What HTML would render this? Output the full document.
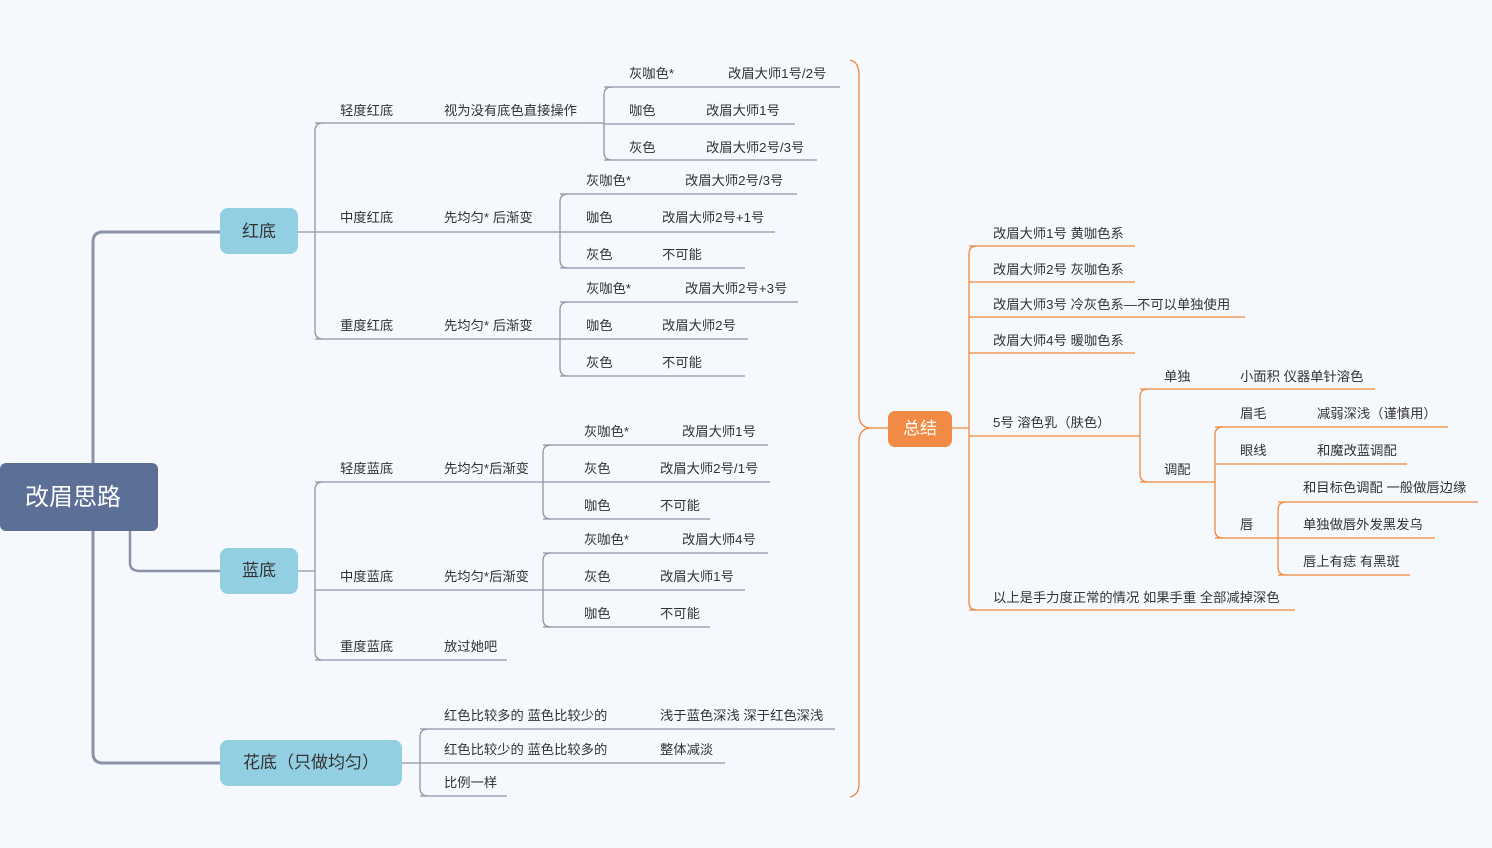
<!DOCTYPE html>
<html><head><meta charset="utf-8"><style>
html,body{margin:0;padding:0;background:#f5f8fc;}
svg{display:block}
text{font-family:"Liberation Sans","Noto Sans CJK SC",sans-serif;font-size:13.3px;fill:#333;dominant-baseline:middle;transform:translateY(1.5px)}
.g{stroke:#8e96a9;stroke-width:1.3;fill:none}
.o{stroke:#f0883e;stroke-width:1.3;fill:none}
</style></head><body>
<svg width="1492" height="848" viewBox="0 0 1492 848">
<path d="M93,463 L93,242 Q93,232 103,232 L220,232" stroke="#8a93a8" stroke-width="3" fill="none"/>
<path d="M93,531 L93,753 Q93,763 103,763 L220,763" stroke="#8a93a8" stroke-width="3" fill="none"/>
<path d="M130,531 L130,563 Q130,571 140,571 L220,571" stroke="#8a93a8" stroke-width="2.5" fill="none"/>
<rect x="0" y="463" width="158" height="68" rx="6" fill="#5b6f97"/>
<text x="25" y="497" style="font-size:24px;fill:#fff">改眉思路</text>
<rect x="220" y="208" width="78" height="46" rx="8" fill="#93cfe3"/>
<text x="259" y="231" text-anchor="middle" style="font-size:17px">红底</text>
<rect x="220" y="548" width="78" height="46" rx="8" fill="#93cfe3"/>
<text x="259" y="570" text-anchor="middle" style="font-size:17px">蓝底</text>
<rect x="220" y="740" width="182" height="46" rx="8" fill="#93cfe3"/>
<text x="243" y="762" style="font-size:17px">花底（只做均匀）</text>

<g class="g">
<path d="M298,232 L315,232"/>
<path d="M323,123 Q315,123 315,131 L315,331 Q315,339 323,339"/>
<path d="M315,123 L590,123"/><path d="M315,232 L560,232"/><path d="M315,339 L560,339"/>
<path d="M590,123 L604,123"/>
<path d="M612,87 Q604,87 604,95 L604,152 Q604,160 612,160"/>
<path d="M604,87 L840,87"/><path d="M604,124 L795,124"/><path d="M604,160 L817,160"/>
<path d="M568,194 Q560,194 560,202 L560,260 Q560,268 568,268"/>
<path d="M560,194 L797,194"/><path d="M560,232 L775,232"/><path d="M560,268 L745,268"/>
<path d="M568,302 Q560,302 560,310 L560,368 Q560,376 568,376"/>
<path d="M560,302 L798,302"/><path d="M560,339 L748,339"/><path d="M560,376 L745,376"/>
<path d="M298,571 L315,571"/>
<path d="M323,482 Q315,482 315,490 L315,652 Q315,660 323,660"/>
<path d="M315,482 L543,482"/><path d="M315,590 L543,590"/><path d="M315,660 L507,660"/>
<path d="M551,445 Q543,445 543,453 L543,511 Q543,519 551,519"/>
<path d="M543,445 L768,445"/><path d="M543,482 L770,482"/><path d="M543,519 L710,519"/>
<path d="M551,553 Q543,553 543,561 L543,619 Q543,627 551,627"/>
<path d="M543,553 L768,553"/><path d="M543,590 L745,590"/><path d="M543,627 L710,627"/>
<path d="M402,763 L420,763"/>
<path d="M428,729 Q420,729 420,737 L420,788 Q420,796 428,796"/>
<path d="M420,729 L835,729"/><path d="M420,763 L725,763"/><path d="M420,796 L507,796"/>
</g>

<text x="340" y="110">轻度红底</text><text x="444" y="110">视为没有底色直接操作</text>
<text x="629" y="73">灰咖色*</text><text x="728" y="73">改眉大师1号/2号</text>
<text x="629" y="110">咖色</text><text x="706" y="110">改眉大师1号</text>
<text x="629" y="147">灰色</text><text x="706" y="147">改眉大师2号/3号</text>
<text x="340" y="217">中度红底</text><text x="444" y="217">先均匀* 后渐变</text>
<text x="586" y="180">灰咖色*</text><text x="685" y="180">改眉大师2号/3号</text>
<text x="586" y="217">咖色</text><text x="662" y="217">改眉大师2号+1号</text>
<text x="586" y="254">灰色</text><text x="662" y="254">不可能</text>
<text x="340" y="325">重度红底</text><text x="444" y="325">先均匀* 后渐变</text>
<text x="586" y="288">灰咖色*</text><text x="685" y="288">改眉大师2号+3号</text>
<text x="586" y="325">咖色</text><text x="662" y="325">改眉大师2号</text>
<text x="586" y="362">灰色</text><text x="662" y="362">不可能</text>
<text x="340" y="468">轻度蓝底</text><text x="444" y="468">先均匀*后渐变</text>
<text x="584" y="431">灰咖色*</text><text x="682" y="431">改眉大师1号</text>
<text x="584" y="468">灰色</text><text x="660" y="468">改眉大师2号/1号</text>
<text x="584" y="505">咖色</text><text x="660" y="505">不可能</text>
<text x="340" y="576">中度蓝底</text><text x="444" y="576">先均匀*后渐变</text>
<text x="584" y="539">灰咖色*</text><text x="682" y="539">改眉大师4号</text>
<text x="584" y="576">灰色</text><text x="660" y="576">改眉大师1号</text>
<text x="584" y="613">咖色</text><text x="660" y="613">不可能</text>
<text x="340" y="646">重度蓝底</text><text x="444" y="646">放过她吧</text>
<text x="444" y="715">红色比较多的 蓝色比较少的</text><text x="660" y="715">浅于蓝色深浅 深于红色深浅</text>
<text x="444" y="749">红色比较少的 蓝色比较多的</text><text x="660" y="749">整体减淡</text>
<text x="444" y="782">比例一样</text>

<path class="o" stroke-width="2" d="M850,60 Q859,62 859,75 L859,415 Q859,428 872,428 Q859,428 859,441 L859,784 Q859,795 850,797"/>
<path class="o" d="M872,428 L888,428"/>
<rect x="888" y="411" width="64" height="36" rx="7" fill="#f08a45"/>
<text x="920" y="428" text-anchor="middle" style="font-size:17px;fill:#fff">总结</text>

<g class="o">
<path d="M952,428 L969,428"/>
<path d="M977,246 Q969,246 969,254 L969,602 Q969,610 977,610"/>
<path d="M969,246 L1135,246"/><path d="M969,282 L1135,282"/><path d="M969,317 L1245,317"/>
<path d="M969,353 L1135,353"/><path d="M969,436 L1140,436"/><path d="M969,610 L1295,610"/>
<path d="M1148,389 Q1140,389 1140,397 L1140,474 Q1140,482 1148,482"/>
<path d="M1140,389 L1375,389"/><path d="M1140,482 L1215,482"/>
<path d="M1223,427 Q1215,427 1215,435 L1215,530 Q1215,538 1223,538"/>
<path d="M1215,427 L1448,427"/><path d="M1215,464 L1407,464"/><path d="M1215,538 L1278,538"/>
<path d="M1286,502 Q1278,502 1278,510 L1278,567 Q1278,575 1286,575"/>
<path d="M1278,502 L1478,502"/><path d="M1278,538 L1435,538"/><path d="M1278,575 L1410,575"/>
</g>
<text x="993" y="233">改眉大师1号 黄咖色系</text>
<text x="993" y="269">改眉大师2号 灰咖色系</text>
<text x="993" y="304">改眉大师3号 冷灰色系—不可以单独使用</text>
<text x="993" y="340">改眉大师4号 暖咖色系</text>
<text x="993" y="422">5号 溶色乳（肤色）</text>
<text x="1164" y="376">单独</text><text x="1240" y="376">小面积 仪器单针溶色</text>
<text x="1164" y="469">调配</text>
<text x="1240" y="413">眉毛</text><text x="1317" y="413">减弱深浅（谨慎用）</text>
<text x="1240" y="450">眼线</text><text x="1317" y="450">和魔改蓝调配</text>
<text x="1240" y="524">唇</text>
<text x="1303" y="487">和目标色调配 一般做唇边缘</text>
<text x="1303" y="524">单独做唇外发黑发乌</text>
<text x="1303" y="561">唇上有痣 有黑斑</text>
<text x="993" y="597">以上是手力度正常的情况 如果手重 全部减掉深色</text>
</svg>
</body></html>
